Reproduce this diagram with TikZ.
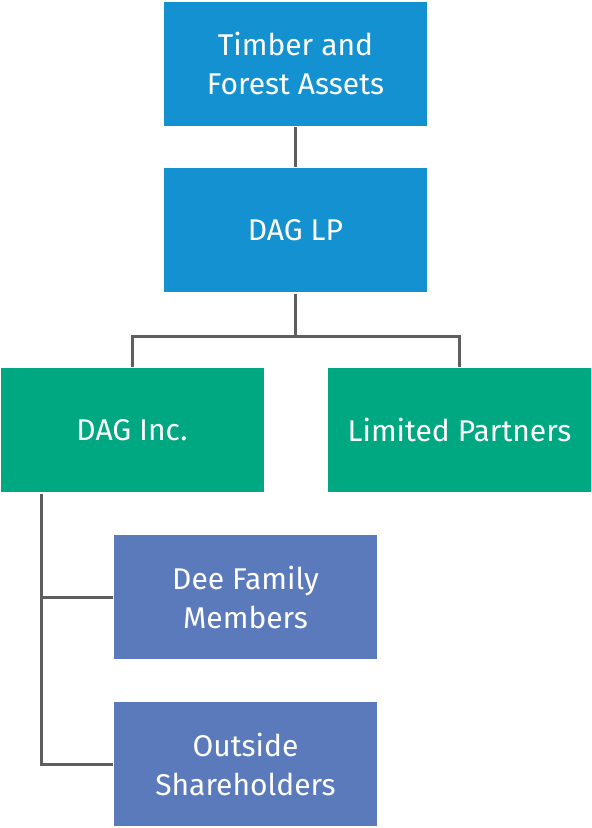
\documentclass[tikz,border=0pt]{standalone}
\usepackage{fontspec}
\setmainfont{Fira Sans}
\usetikzlibrary{positioning, calc}
\definecolor{cblue}{HTML}{1391D0}
\definecolor{cgreen}{HTML}{00A882}
\definecolor{cviolet}{HTML}{5A7ABC}
\definecolor{cline}{HTML}{5E5E5E}
\tikzset{
  every picture/.style={line width=3pt},
  box/.style={fill=#1, text=white, align=center, minimum width=263pt, minimum height=124pt,
    inner sep=0pt, font=\fontsize{30}{39}\selectfont},
  box/.default=cblue,
  link/.style={draw=cline, line width=3pt},
}
\begin{document}
\begin{tikzpicture}[x=1pt, y=-1pt]
  \useasboundingbox (0,0) rectangle (592,828);
  % top of the chart
  \node[box] (timber) at (295.5,63.5) {Timber and\\Forest Assets};
  \node[box] (lp) at (295.5,230) {DAG LP};
  % second row
  \node[box=cgreen] (inc) at (132,430) {DAG Inc.};
  \node[box=cgreen] (partners) at (459.5,430) {Limited Partners};
  % shareholders
  \node[box=cviolet] (family) at (245.5,597) {Dee Family\\Members};
  \node[box=cviolet] (outside) at (245.5,764) {Outside\\Shareholders};
  \coordinate (split) at (295.5,336);
  \coordinate (trunk) at ($(inc.south west)+(42.5,0)$);
  \draw[link] (timber) -- (lp);
  \draw[link] (lp) -- (split) -| (inc);
  \draw[link] (split) -| (partners);
  \draw[link] (trunk) |- (family.west);
  \draw[link] (trunk) |- (outside.west);
\end{tikzpicture}
\end{document}
